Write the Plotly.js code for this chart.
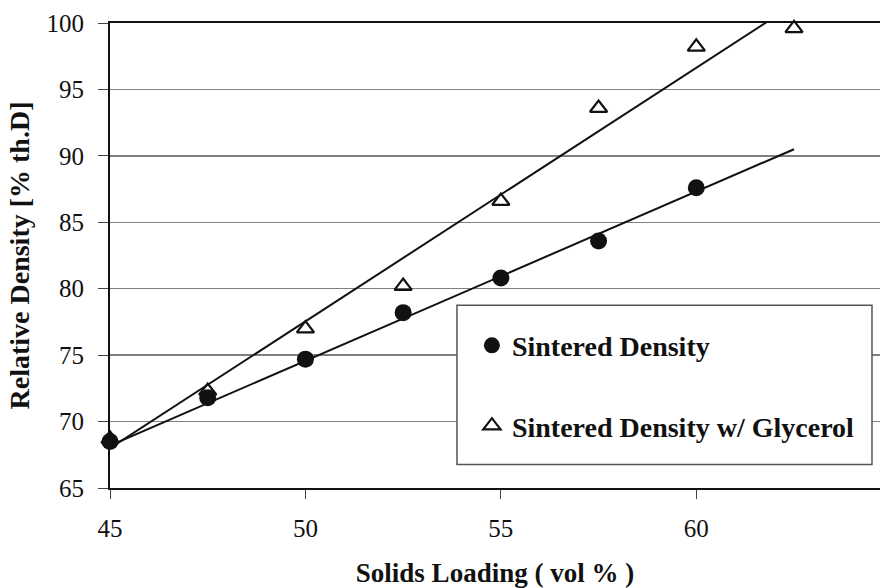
<!DOCTYPE html>
<html>
<head>
<meta charset="utf-8">
<script src="https://cdn.plot.ly/plotly-3.0.1.min.js"></script>
<style>
#chart text, #chart tspan { font-family: 'Liberation Serif', serif !important; }
</style>
</head>
<body style="margin:0">
<div id="chart"></div>
<script>
// Data
const solidsLoading = [45, 47.5, 50, 52.5, 55, 57.5, 60];
const sinteredDensity = [68.5, 71.8, 74.7, 78.2, 80.8, 83.6, 87.6];
const solidsLoadingGly = [45, 47.5, 50, 52.5, 55, 57.5, 60, 62.5];
const sinteredDensityGly = [68.7, 72.3, 77.0, 80.2, 86.6, 93.6, 98.2, 99.6];
// Trend line end points as drawn in the reference
const trendX = [45, 62.5];
const trendY = [68.2, 90.5];
const trendGlyX = [45, 62.5];
const trendGlyY = [68.0, 101.4];
const xTicks = [45, 50, 55, 60];
const yTicks = [65, 70, 75, 80, 85, 90, 95, 100];

const fam = 'Liberation Serif';
const ink = '#111';

const traces = [
  {x: trendX, y: trendY, mode: 'lines', line: {color: ink, width: 2}, showlegend: false, hoverinfo: 'skip'},
  {x: trendGlyX, y: trendGlyY, mode: 'lines', line: {color: ink, width: 2}, showlegend: false, hoverinfo: 'skip'},
  {x: solidsLoading, y: sinteredDensity, mode: 'markers', name: '<b>Sintered Density</b>', legendgroup: 'a',
   cliponaxis: false, marker: {symbol: 'circle', size: 17, color: ink, line: {width: 0}}},
  {x: solidsLoadingGly, y: sinteredDensityGly, mode: 'markers', name: '<b>Sintered Density w/ Glycerol</b>', legendgroup: 'b',
   cliponaxis: false, marker: {symbol: 'triangle-up-open', size: 15, color: ink, line: {width: 2.2, color: ink}}}
];

const layout = {
  width: 880, height: 588,
  margin: {l: 110, r: 0, t: 23, b: 100, pad: 0},
  paper_bgcolor: 'white', plot_bgcolor: 'white',
  font: {family: fam, size: 25, color: ink},
  showlegend: true,
  xaxis: {
    range: [45, 64.7], tickvals: xTicks, ticks: 'outside', ticklen: 9, tickwidth: 1, tickcolor: '#444',
    showgrid: false, zeroline: false, showline: true, linecolor: ink, linewidth: 2, mirror: true,
    tickfont: {family: fam, size: 25, color: ink}, ticklabelstandoff: 8,
    title: {text: '<b>Solids Loading ( vol % )</b>', font: {family: fam, size: 27, color: ink}, standoff: 24}
  },
  yaxis: {
    range: [65, 100], tickvals: yTicks, ticks: 'outside', ticklen: 10, tickwidth: 1, tickcolor: '#444',
    showgrid: true, gridcolor: '#808080', gridwidth: 1.5, zeroline: false, showline: true, linecolor: ink, linewidth: 2,
    tickfont: {family: fam, size: 25, color: ink}, ticklabelstandoff: 9,
    title: {text: '<b>Relative Density [% th.D]</b>', font: {family: fam, size: 28, color: ink}, standoff: 9}
  },
  shapes: [
    {type: 'rect', xref: 'paper', yref: 'paper', x0: 0.4506, x1: 0.9896, y0: 0.0507, y1: 0.393,
     fillcolor: 'white', line: {color: '#555', width: 1.5}, layer: 'above'}
  ],
  legend: {
    x: 0.470, y: 0.36, xanchor: 'left', yanchor: 'top', bgcolor: 'rgba(0,0,0,0)', borderwidth: 0,
    font: {family: fam, size: 28, color: ink}, tracegroupgap: 41, itemwidth: 30
  }
};

Plotly.newPlot('chart', traces, layout, {displayModeBar: false, staticPlot: true});
</script>
</body>
</html>
